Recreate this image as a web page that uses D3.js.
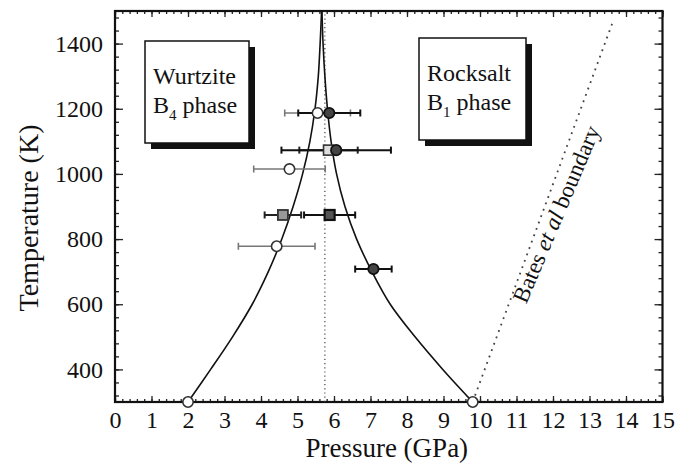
<!DOCTYPE html>
<html>
<head>
<meta charset="utf-8">
<script src="https://cdn.jsdelivr.net/npm/d3@7"></script>
<style>
  body { margin: 0; background: #fff; }
  text { font-family: "Liberation Serif", "Times New Roman", serif; fill: #111; }
</style>
</head>
<body>
<div id="chart"></div>
<script>
// tick values
const xTicks = d3.range(0, 16);
const xMinor = d3.range(0, 15.01, 0.2);
const yTicks = [400, 600, 800, 1000, 1200, 1400];
const yMinor = d3.range(320, 1500, 40);

// phase boundaries, [pressure GPa, temperature K]
const wurtziteEdge = [[2.0, 300], [2.62, 400], [3.22, 500], [3.76, 600], [4.2, 700], [4.57, 800],
  [4.88, 900], [5.14, 1000], [5.34, 1100], [5.48, 1200], [5.57, 1300], [5.62, 1400], [5.66, 1500]];
const rocksaltEdge = [[9.8, 300], [8.98, 400], [8.22, 500], [7.54, 600], [7.04, 700], [6.62, 800],
  [6.3, 900], [6.07, 1000], [5.92, 1100], [5.82, 1200], [5.75, 1300], [5.7, 1400], [5.67, 1500]];
const batesEdge = [[9.8, 300], [13.65, 1470]];
const midLine = [[5.75, 300], [5.75, 1500]];

// measurements, [pressure, temperature, pressure error]
const openCircles = [[5.55, 1187, 0.9], [4.78, 1015, 0.98], [4.43, 778, 1.05]];
const endCircles = [[2.0, 300], [9.8, 300]];
const filledCircles = [[5.87, 1187, 0.85], [6.06, 1073, 1.5], [7.08, 708, 0.5]];
const openSquares = [[5.85, 1073, 0.8]];
const greySquares = [[4.6, 874, 0.5]];
const blackSquares = [[5.88, 874, 0.7]];

const W = 675, H = 466;
const mLeft = 115, mRight = 662.5, mTop = 11, mBottom = 402;

const svg = d3.select("#chart").append("svg")
  .attr("width", W).attr("height", H);

const x = d3.scaleLinear().domain([0, 15]).range([mLeft, mRight]);
const y = d3.scaleLinear().domain([300, 1500]).range([mBottom, mTop]);

// minor ticks on all four sides (inward)
svg.append("g").attr("transform", `translate(0,${mBottom})`)
  .call(d3.axisBottom(x).tickValues(xMinor).tickSize(-3).tickFormat(""));
svg.append("g").attr("transform", `translate(0,${mTop})`)
  .call(d3.axisTop(x).tickValues(xMinor).tickSize(-3).tickFormat(""));
svg.append("g").attr("transform", `translate(${mLeft},0)`)
  .call(d3.axisLeft(y).tickValues(yMinor).tickSize(-4).tickFormat(""));
svg.append("g").attr("transform", `translate(${mRight},0)`)
  .call(d3.axisRight(y).tickValues(yMinor).tickSize(-4).tickFormat(""));

// major ticks + labels
const xAxis = svg.append("g").attr("transform", `translate(0,${mBottom})`)
  .call(d3.axisBottom(x).tickValues(xTicks).tickSize(-6).tickPadding(9).tickFormat(d3.format("d")));
svg.append("g").attr("transform", `translate(0,${mTop})`)
  .call(d3.axisTop(x).tickValues(xTicks).tickSize(-6).tickFormat(""));
const yAxis = svg.append("g").attr("transform", `translate(${mLeft},0)`)
  .call(d3.axisLeft(y).tickValues(yTicks).tickSize(-8).tickPadding(12).tickFormat(d3.format("d")));
svg.append("g").attr("transform", `translate(${mRight},0)`)
  .call(d3.axisRight(y).tickValues(yTicks).tickSize(-8).tickFormat(""));

svg.selectAll(".domain").remove();
svg.selectAll(".tick line").attr("stroke", "#222").attr("stroke-width", 1.3);
xAxis.selectAll("text").style("font-family", "Liberation Serif").style("font-size", "24px").attr("fill", "#111");
yAxis.selectAll("text").style("font-family", "Liberation Serif").style("font-size", "24px").attr("fill", "#111");

// frame
svg.append("rect")
  .attr("x", mLeft).attr("y", mTop)
  .attr("width", mRight - mLeft).attr("height", mBottom - mTop)
  .attr("fill", "none").attr("stroke", "#111").attr("stroke-width", 2.2);

// axis titles
svg.append("text")
  .attr("x", (mLeft + mRight) / 2 - 2).attr("y", 457)
  .attr("text-anchor", "middle")
  .style("font-size", "27px")
  .text("Pressure (GPa)");

svg.append("text")
  .attr("transform", `translate(38,${218}) rotate(-90)`)
  .attr("text-anchor", "middle")
  .style("font-size", "28px")
  .text("Temperature (K)");

// phase labels with drop shadow
function phaseBox(x0, y0, w, h, line1, sub) {
  const g = svg.append("g");
  g.append("rect").attr("x", x0 + 6).attr("y", y0 + 6).attr("width", w).attr("height", h)
    .attr("fill", "#111");
  g.append("rect").attr("x", x0).attr("y", y0).attr("width", w).attr("height", h)
    .attr("fill", "#fff").attr("stroke", "#111").attr("stroke-width", 1.5);
  g.append("text").attr("x", x0 + 8).attr("y", y0 + 43)
    .style("font-size", "24px").text(line1);
  const t = g.append("text").attr("x", x0 + 8).attr("y", y0 + 72).style("font-size", "24px");
  t.append("tspan").text("B");
  t.append("tspan").attr("dy", 7).style("font-size", "15px").text(sub);
  t.append("tspan").attr("dy", -7).text(" phase");
}
phaseBox(145, 41, 104, 102, "Wurtzite", "4");
phaseBox(419, 38, 107, 102, "Rocksalt", "1");

const line = d3.line().x(d => x(d[0])).y(d => y(d[1]));
const smooth = d3.line().x(d => x(d[0])).y(d => y(d[1])).curve(d3.curveCatmullRom);

svg.append("path").attr("d", line(midLine))
  .attr("fill", "none").attr("stroke", "#444").attr("stroke-width", 1.2)
  .attr("stroke-dasharray", "1.2,3");
svg.append("path").attr("d", line(batesEdge))
  .attr("fill", "none").attr("stroke", "#444").attr("stroke-width", 1.8)
  .attr("stroke-dasharray", "1.8,5");
svg.append("path").attr("d", smooth(wurtziteEdge))
  .attr("fill", "none").attr("stroke", "#111").attr("stroke-width", 1.6);
svg.append("path").attr("d", smooth(rocksaltEdge))
  .attr("fill", "none").attr("stroke", "#111").attr("stroke-width", 1.6);

// Bates et al label along the dotted boundary
const lab = svg.append("text")
  .attr("transform", "translate(556,214) rotate(-67)")
  .attr("text-anchor", "middle").attr("dy", "0.35em")
  .style("font-size", "23px");
lab.append("tspan").text("Bates ");
lab.append("tspan").style("font-style", "italic").text("et al");
lab.append("tspan").text(" boundary");

// error bars
function errorBars(data, color, width) {
  const g = svg.append("g").attr("stroke", color).attr("stroke-width", width);
  data.forEach(d => {
    g.append("line").attr("x1", x(d[0] - d[2])).attr("x2", x(d[0] + d[2]))
      .attr("y1", y(d[1])).attr("y2", y(d[1]));
    [d[0] - d[2], d[0] + d[2]].forEach(p => {
      g.append("line").attr("x1", x(p)).attr("x2", x(p))
        .attr("y1", y(d[1]) - 3.5).attr("y2", y(d[1]) + 3.5);
    });
  });
}
errorBars(openCircles, "#777", 1.6);
errorBars(greySquares, "#222", 2);
errorBars(openSquares, "#222", 2);
errorBars(filledCircles, "#111", 2);
errorBars(blackSquares, "#111", 2);

// markers
svg.selectAll(".oc").data(openCircles.concat(endCircles)).enter().append("circle")
  .attr("cx", d => x(d[0])).attr("cy", d => y(d[1])).attr("r", 5.2)
  .attr("fill", "#fff").attr("stroke", "#333").attr("stroke-width", 1.6);
svg.selectAll(".os").data(openSquares).enter().append("rect")
  .attr("x", d => x(d[0]) - 5).attr("y", d => y(d[1]) - 5).attr("width", 10).attr("height", 10)
  .attr("fill", "#ddd").attr("stroke", "#333").attr("stroke-width", 1.6);
svg.selectAll(".gs").data(greySquares).enter().append("rect")
  .attr("x", d => x(d[0]) - 5).attr("y", d => y(d[1]) - 5).attr("width", 10).attr("height", 10)
  .attr("fill", "#999").attr("stroke", "#333").attr("stroke-width", 1.8);
svg.selectAll(".bs").data(blackSquares).enter().append("rect")
  .attr("x", d => x(d[0]) - 5).attr("y", d => y(d[1]) - 5).attr("width", 10).attr("height", 10)
  .attr("fill", "#555").attr("stroke", "#111").attr("stroke-width", 2.2);
svg.selectAll(".fc").data(filledCircles).enter().append("circle")
  .attr("cx", d => x(d[0])).attr("cy", d => y(d[1])).attr("r", 5.2)
  .attr("fill", "#444").attr("stroke", "#111").attr("stroke-width", 1.8);
</script>
</body>
</html>
